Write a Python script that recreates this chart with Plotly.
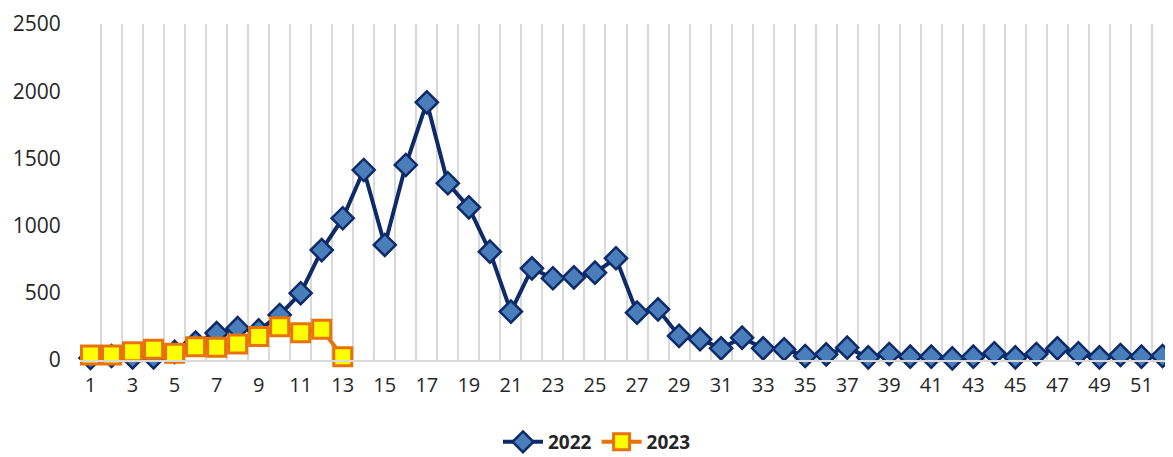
import plotly.graph_objects as go

weeks = list(range(1, 53))
cases_2022 = [15, 30, 20, 20, 60, 130, 200, 237, 220, 335, 497, 818, 1055, 1414,
              856, 1451, 1917, 1315, 1136, 806, 360, 682, 608, 615, 650, 757, 352,
              377, 179, 154, 87, 166, 87, 80, 30, 42, 92, 20, 45, 25, 25, 12, 25,
              50, 20, 45, 87, 50, 20, 37, 25, 30]
weeks_2023 = list(range(1, 14))
cases_2023 = [37, 37, 62, 80, 50, 99, 94, 119, 174, 248, 203, 228, 25]
x_tick_labels = [str(w) for w in range(1, 53, 2)]
y_ticks = [0, 500, 1000, 1500, 2000, 2500]

fig = go.Figure()
fig.add_trace(go.Scatter(
    x=weeks, y=cases_2022, name="2022", mode="lines+markers",
    line=dict(color="#0e2a68", width=4),
    marker=dict(symbol="diamond", size=17, color="#4a7ebb",
                line=dict(color="#0e2a68", width=2.5)),
    cliponaxis=False,
))
fig.add_trace(go.Scatter(
    x=weeks_2023, y=cases_2023, name="2023", mode="lines+markers",
    line=dict(color="#e8720c", width=4),
    marker=dict(symbol="square", size=18, color="#ffff00",
                line=dict(color="#e8720c", width=3)),
    cliponaxis=False,
))

W, H = 1165, 449  # page adds an 8px body margin
font_fam = "Open Sans, Noto Sans, DejaVu Sans, sans-serif"
fig.update_layout(
    width=W, height=H,
    margin=dict(l=72, r=0, t=16, b=97),
    plot_bgcolor="white", paper_bgcolor="white",
    font=dict(family=font_fam, size=20, color="#262626"),
    showlegend=True,
    legend=dict(orientation="h", x=0.473, xanchor="center",
                yref="container", y=(H - 434) / H, yanchor="middle",
                font=dict(size=19, color="#262626", weight="bold"),
                itemwidth=40, traceorder="normal"),
    xaxis=dict(
        range=[0.5, 52.5], tickmode="array",
        tickvals=list(range(1, 53, 2)), ticktext=x_tick_labels,
        showgrid=False, zeroline=False, automargin=False,
        showline=True, linecolor="#d9d9d9", linewidth=1.5,
        ticks="outside", ticklen=6, tickcolor="rgba(0,0,0,0)",
        minor=dict(tick0=0.5, dtick=1, showgrid=True, gridcolor="#d9d9d9",
                   gridwidth=1.5, ticks=""),
        tickfont=dict(size=20),
    ),
    yaxis=dict(
        range=[0, 2500], tickmode="array", tickvals=y_ticks,
        ticktext=[str(v) for v in y_ticks], automargin=False,
        showgrid=False, zeroline=False, showline=False,
        ticks="outside", ticklen=14, tickcolor="rgba(0,0,0,0)",
        tickfont=dict(size=21),
    ),
)

fig.write_html("out.html")
